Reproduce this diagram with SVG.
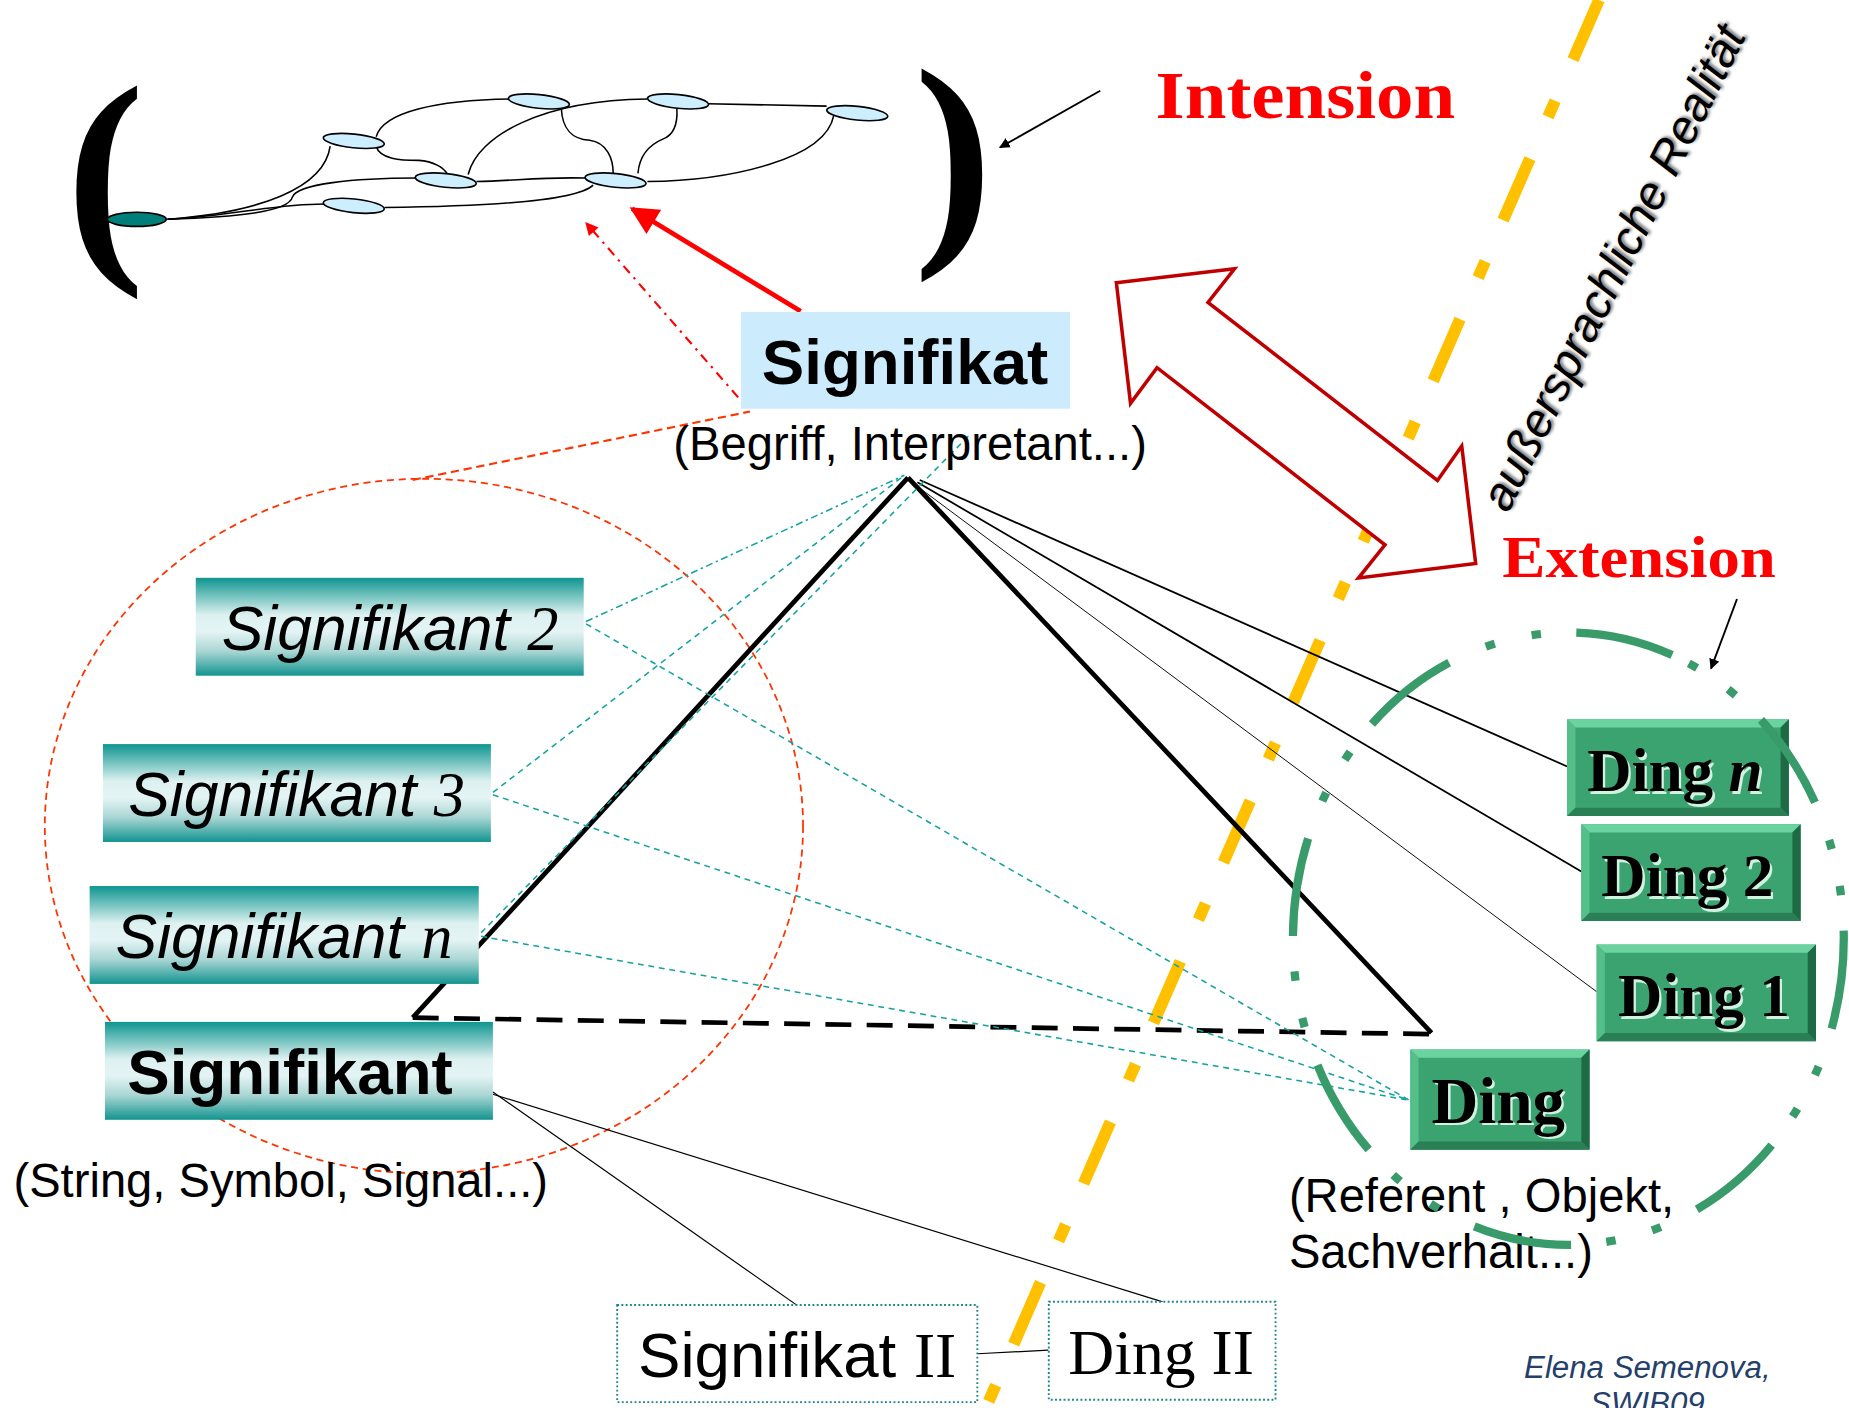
<svg xmlns="http://www.w3.org/2000/svg" width="1849" height="1408" viewBox="0 0 1849 1408">
<defs>
<style>
.sans{font-family:"Liberation Sans",Arial,sans-serif}
.serif{font-family:"Liberation Serif","Times New Roman",serif}
.net{fill:none;stroke:#000;stroke-width:1.3}
.nd{fill:#CCEEFF;stroke:#000;stroke-width:1.4}
.teal{fill:none;stroke:#12A3A0;stroke-width:1.3;stroke-dasharray:5 4}
.thin{fill:none;stroke:#000}
.dbox{fill:#fff;stroke:#1B8585;stroke-width:1.6;stroke-dasharray:1.6 2}
.dtxt{font-family:"Liberation Serif","Times New Roman",serif;font-weight:bold;fill:#000}
.dsh{font-family:"Liberation Serif","Times New Roman",serif;font-weight:bold;fill:#D2F2E0}
</style>
<linearGradient id="tg" x1="0" y1="0" x2="0" y2="1">
<stop offset="0" stop-color="#0E9590"/>
<stop offset="0.38" stop-color="#DDF1F0"/>
<stop offset="0.55" stop-color="#E4F4F4"/>
<stop offset="0.75" stop-color="#A9D6D4"/>
<stop offset="1" stop-color="#12948F"/>
</linearGradient>
<marker id="ab" viewBox="0 0 10 10" refX="9" refY="5" markerWidth="9" markerHeight="9" markerUnits="userSpaceOnUse" orient="auto"><path d="M0,0 L10,5 L0,10 z" fill="#000"/></marker>
<marker id="ar" viewBox="0 0 10 10" refX="9" refY="5" markerWidth="7" markerHeight="6" orient="auto"><path d="M0,0 L10,5 L0,10 z" fill="#FF0000"/></marker>
<marker id="ar2" viewBox="0 0 10 10" refX="9" refY="5" markerWidth="12" markerHeight="11" markerUnits="userSpaceOnUse" orient="auto"><path d="M0,0 L10,5 L0,10 z" fill="#FF0000"/></marker>
<filter id="blur" x="-10%" y="-10%" width="120%" height="120%"><feGaussianBlur stdDeviation="1.5"/></filter>
</defs>
<rect width="1849" height="1408" fill="#fff"/>
<g transform="scale(1.17921)">

<!-- yellow boundary line -->
<path d="M1356,0 L836,1194" fill="none" stroke="#FFC000" stroke-width="10" stroke-dasharray="57 38 15 38.5" stroke-dashoffset="1.8"/>

<!-- intension network -->
<g id="intension-graph">
<text class="serif" x="56" y="211" font-size="200" font-weight="bold">(</text>
<text class="serif" x="775" y="197" font-size="200" font-weight="bold">)</text>
<g id="graph-edges">
<path class="net" d="M142,186 C200,183 230,173 275,173"/>
<path class="net" d="M142,186 C200,184 245,180 248,167 C252,156 300,151 353,151"/>
<path class="net" d="M142,186 C220,180 275,160 280,124"/>
<path class="net" d="M319,116 C325,95 370,85 433,84"/>
<path class="net" d="M319,124 C322,135 340,136 355,136 C368,137 376,142 379,147"/>
<path class="net" d="M397,148 C405,115 460,85 549,84"/>
<path class="net" d="M476,92 C477,110 485,118 500,119 C515,121 520,135 520,147"/>
<path class="net" d="M574,92 C575,108 570,115 562,118 C548,124 542,135 541,147"/>
<path class="net" d="M600,88 L701,90"/>
<path class="net" d="M707,98 C700,135 620,153 549,154"/>
<path class="net" d="M404,154 C440,153 460,150 497,151"/>
<path class="net" d="M503,157 C490,170 420,175 326,176"/>
</g>
<ellipse cx="116" cy="186" rx="25" ry="6" fill="#007F7A" stroke="#000" stroke-width="1.4"/>
<ellipse class="nd" cx="300" cy="119.5" rx="26" ry="5.8" transform="rotate(6 300 119.5)"/>
<ellipse class="nd" cx="457" cy="86" rx="26" ry="5.8" transform="rotate(6 457 86)"/>
<ellipse class="nd" cx="575" cy="86" rx="26" ry="5.8" transform="rotate(6 575 86)"/>
<ellipse class="nd" cx="727" cy="96" rx="26" ry="5.8" transform="rotate(6 727 96)"/>
<ellipse class="nd" cx="378" cy="153" rx="26" ry="5.8" transform="rotate(6 378 153)"/>
<ellipse class="nd" cx="522" cy="153" rx="26" ry="5.8" transform="rotate(6 522 153)"/>
<ellipse class="nd" cx="300" cy="174.5" rx="26" ry="5.8" transform="rotate(6 300 174.5)"/>
</g>

<!-- connectors -->
<g id="connectors">
<line x1="933" y1="77" x2="848" y2="125" stroke="#000" stroke-width="1.6" marker-end="url(#ab)"/>
<line x1="1473" y1="508" x2="1451" y2="567" stroke="#000" stroke-width="1.6" marker-end="url(#ab)"/>
<line x1="679" y1="264" x2="536" y2="177" stroke="#FF0000" stroke-width="4" marker-end="url(#ar)"/>
<line x1="626" y1="337" x2="497" y2="189" stroke="#FF0000" stroke-width="1.8" stroke-dasharray="8 5 2 5" marker-end="url(#ar2)"/>
<ellipse cx="359.5" cy="700.5" rx="321.5" ry="294.5" fill="none" stroke="#FF3300" stroke-width="1.5" stroke-dasharray="6 4"/>
<line x1="350" y1="407" x2="636" y2="349" stroke="#FF3300" stroke-width="1.8" stroke-dasharray="7 4"/>
<!-- triangle -->
<line x1="350" y1="863" x2="770" y2="405" stroke="#000" stroke-width="4"/>
<line x1="770" y1="405" x2="1214" y2="876" stroke="#000" stroke-width="4"/>
<line x1="350" y1="863" x2="1214" y2="877" stroke="#000" stroke-width="4" stroke-dasharray="22 13"/>
<!-- apex to things -->
<line x1="780" y1="407" x2="1329" y2="650" stroke="#000" stroke-width="1.5"/>
<line x1="778" y1="409" x2="1341" y2="739" stroke="#000" stroke-width="1.5"/>
<line x1="776" y1="411" x2="1354" y2="841" stroke="#000" stroke-width="0.8"/>
<!-- teal dashed -->
<line x1="497" y1="527" x2="767" y2="403" stroke="#12A3A0" stroke-width="1.3" stroke-dasharray="6 3 2 3"/>
<line class="teal" x1="418" y1="672" x2="767" y2="403"/>
<line class="teal" x1="408" y1="791" x2="822" y2="369"/>
<line class="teal" x1="497" y1="529" x2="1195" y2="933"/>
<line class="teal" x1="418" y1="674" x2="1195" y2="933"/>
<line class="teal" x1="408" y1="794" x2="1195" y2="933"/>
<!-- signifikant to II -->
<line x1="418" y1="926" x2="676" y2="1107" stroke="#000" stroke-width="1"/>
<line x1="418" y1="928" x2="986" y2="1104" stroke="#000" stroke-width="1"/>
<line x1="829" y1="1148" x2="889" y2="1145" stroke="#000" stroke-width="1"/>
<!-- double arrow -->
<path d="M946.7,239.7 L1046.9,228 L1024.4,256.5 L1219,407.4 L1239.6,378.2 L1251.4,477.9 L1152,490.2 L1174.5,462.1 L981.2,311.8 L958.7,342 Z" fill="#fff" stroke="#C00000" stroke-width="3"/>
</g>

<text class="serif" x="980" y="100" font-size="58" font-weight="bold" fill="#FF0000" textLength="254" lengthAdjust="spacingAndGlyphs">Intension</text>
<text class="serif" x="1274" y="489" font-size="51" font-weight="bold" fill="#FF0000" textLength="232" lengthAdjust="spacingAndGlyphs">Extension</text>

<g id="realitaet-label" transform="translate(1380,233) rotate(-63.5)">
<text class="sans" x="2" y="2" font-size="40" font-style="italic" fill="#777" text-anchor="middle" filter="url(#blur)">außersprachliche Realität</text>
<text class="sans" x="0" y="0" font-size="40" font-style="italic" fill="#000" text-anchor="middle">außersprachliche Realität</text>
</g>

<g id="signifikat">
<rect x="628.5" y="264.6" width="279" height="82" fill="#CCEBFC"/>
<text class="sans" x="646" y="325.6" font-size="54" font-weight="bold">Signifikat</text>
<text class="sans" x="571" y="390" font-size="40">(Begriff, Interpretant...)</text>
</g>

<g id="signifikant-2">
<rect x="166" y="490" width="329" height="83" fill="url(#tg)"/>
<text class="sans" x="188" y="551" font-size="53" font-style="italic">Signifikant <tspan class="serif">2</tspan></text>
</g>
<g id="signifikant-3">
<rect x="87.3" y="631" width="329" height="83" fill="url(#tg)"/>
<text class="sans" x="108.7" y="692" font-size="53" font-style="italic">Signifikant <tspan class="serif">3</tspan></text>
</g>
<g id="signifikant-n">
<rect x="76" y="751.4" width="330" height="83" fill="url(#tg)"/>
<text class="sans" x="98" y="812" font-size="53" font-style="italic">Signifikant <tspan class="serif">n</tspan></text>
</g>
<g id="signifikant">
<rect x="89" y="866.6" width="329" height="83" fill="url(#tg)"/>
<text class="sans" x="108" y="927.7" font-size="54" font-weight="bold">Signifikant</text>
<text class="sans" x="11.4" y="1014.8" font-size="40">(String, Symbol, Signal...)</text>
</g>

<g id="ding-n">
<rect x="1329" y="610" width="188" height="82" fill="#3BA370"/>
<polygon points="1329,610 1517,610 1510,617 1336,617" fill="#6BD3A0"/>
<polygon points="1329,610 1336,617 1336,685 1329,692" fill="#55BF8A"/>
<polygon points="1517,610 1517,692 1510,685 1510,617" fill="#1E6A45"/>
<polygon points="1329,692 1336,685 1510,685 1517,692" fill="#2A7F55"/>
<text class="dsh" x="1348" y="673" font-size="52">Ding <tspan font-style="italic">n</tspan></text>
<text class="dtxt" x="1346" y="671" font-size="52">Ding <tspan font-style="italic">n</tspan></text>
</g>
<g id="ding-2">
<rect x="1341" y="699" width="186" height="82" fill="#3BA370"/>
<polygon points="1341,699 1527,699 1520,706 1348,706" fill="#6BD3A0"/>
<polygon points="1341,699 1348,706 1348,774 1341,781" fill="#55BF8A"/>
<polygon points="1527,699 1527,781 1520,774 1520,706" fill="#1E6A45"/>
<polygon points="1341,781 1348,774 1520,774 1527,781" fill="#2A7F55"/>
<text class="dsh" x="1360" y="762" font-size="52">Ding 2</text>
<text class="dtxt" x="1358" y="760" font-size="52">Ding 2</text>
</g>
<g id="ding-1">
<rect x="1354" y="801" width="186" height="82" fill="#3BA370"/>
<polygon points="1354,801 1540,801 1533,808 1361,808" fill="#6BD3A0"/>
<polygon points="1354,801 1361,808 1361,876 1354,883" fill="#55BF8A"/>
<polygon points="1540,801 1540,883 1533,876 1533,808" fill="#1E6A45"/>
<polygon points="1354,883 1361,876 1533,876 1540,883" fill="#2A7F55"/>
<text class="dsh" x="1374" y="864" font-size="52">Ding 1</text>
<text class="dtxt" x="1372" y="862" font-size="52">Ding 1</text>
</g>
<g id="ding">
<rect x="1196" y="890" width="152" height="85" fill="#3BA370"/>
<polygon points="1196,890 1348,890 1341,897 1203,897" fill="#6BD3A0"/>
<polygon points="1196,890 1203,897 1203,968 1196,975" fill="#55BF8A"/>
<polygon points="1348,890 1348,975 1341,968 1341,897" fill="#1E6A45"/>
<polygon points="1196,975 1203,968 1341,968 1348,975" fill="#2A7F55"/>
<text class="dsh" x="1216" y="954" font-size="55">Ding</text>
<text class="dtxt" x="1214" y="952" font-size="55">Ding</text>
<text class="sans" x="1093" y="1027.6" font-size="40" font-weight="normal">(Referent , Objekt,</text>
<text class="sans" x="1093" y="1075.6" font-size="40" font-weight="normal">Sachverhalt...)</text>
</g>

<g id="signifikat-ii">
<rect class="dbox" x="523.4" y="1106.7" width="305.4" height="82.3"/>
<text class="sans" x="541" y="1167.5" font-size="54">Signifikat <tspan class="serif">II</tspan></text>
</g>
<g id="ding-ii">
<rect class="dbox" x="889.4" y="1103.9" width="192.3" height="83.1"/>
<text class="serif" x="906" y="1165" font-size="54">Ding II</text>
</g>

<!-- extension circle -->
<path d="M1418,555.5 A233,259 0 1 0 1242,1036.5 A233,259 0 1 0 1418,555.5" fill="none" stroke="#389B69" stroke-width="7" stroke-dasharray="84 30 8 32 8 34"/>

<g id="author">
<text class="sans" x="1397" y="1168.6" font-size="26.5" font-style="italic" fill="#243F6B" text-anchor="middle">Elena Semenova,</text>
<text class="sans" x="1397" y="1199" font-size="26.5" font-style="italic" fill="#243F6B" text-anchor="middle">SWIB09</text>
</g>
</g>
</svg>
